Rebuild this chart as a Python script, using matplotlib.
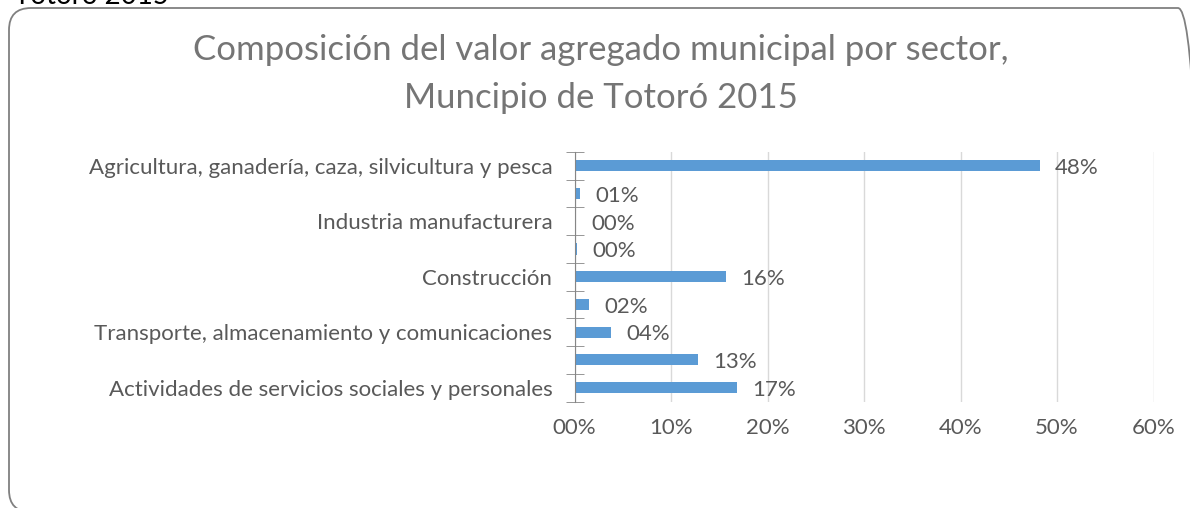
import matplotlib
matplotlib.use('Agg')
import matplotlib.pyplot as plt
from matplotlib.patches import FancyBboxPatch
from matplotlib.transforms import IdentityTransform

# sectores (solo se muestran las etiquetas alternas, como en el original)
sectores = [
    'Agricultura, ganadería, caza, silvicultura y pesca',
    'Explotación de minas y canteras',
    'Industria manufacturera',
    'Electricidad, gas y agua',
    'Construcción',
    'Comercio, reparación, restaurantes y hoteles',
    'Transporte, almacenamiento y comunicaciones',
    'Establecimientos financieros, seguros e inmobiliarias',
    'Actividades de servicios sociales y personales',
]
participacion = [0.482, 0.006, 0.002, 0.0025, 0.157, 0.015, 0.038, 0.128, 0.168]
ticks_x = [0, 0.1, 0.2, 0.3, 0.4, 0.5, 0.6]

plt.rcParams['font.family'] = ['Lato', 'DejaVu Sans']
gris = '#595959'

fig = plt.figure(figsize=(11.9, 5.08), dpi=100)

# marco redondeado (en pixeles)
caja = FancyBboxPatch((9, -4), 1200 - 9, 508 - 8 + 4,
                      boxstyle='round,pad=0,rounding_size=22',
                      transform=IdentityTransform(), facecolor='none',
                      edgecolor='#808080', linewidth=1.3)
fig.patches.append(caja)
fig.text(14 / 1190, 1 - 4 / 508, 'Totoró 2015', fontsize=20, color='black',
         ha='left', va='baseline')

fig.text(0.505, 1 - 50 / 508, 'Composición del valor agregado municipal por sector,',
         fontsize=25, color='#757575', ha='center', va='center')
fig.text(0.505, 1 - 98 / 508, 'Muncipio de Totoró 2015',
         fontsize=25, color='#757575', ha='center', va='center')

ax = fig.add_axes([574.5 / 1190, 1 - 401.5 / 508, (1153.5 - 574.5) / 1190, (401.5 - 152) / 508])
pos = list(range(len(sectores)))
ax.barh(pos, participacion, height=0.4, color='#5B9BD5', zorder=3)
for p, v in zip(pos, participacion):
    ax.text(v + 0.016, p + 0.08, f'{v * 100:02.0f}%', fontsize=16, color=gris,
            ha='left', va='center')

ax.set_xlim(0, 0.6)
ax.set_ylim(len(sectores) - 0.5, -0.5)
ax.set_xticks(ticks_x)
ax.set_xticklabels([f'{t * 100:02.0f}%' for t in ticks_x], fontsize=16, color=gris)
ax.set_yticks(pos)
ax.set_yticklabels([s if i % 2 == 0 else '' for i, s in enumerate(sectores)],
                   fontsize=16, color=gris)
ax.set_yticks([p - 0.5 for p in pos] + [len(sectores) - 0.5], minor=True)
ax.tick_params(axis='y', which='major', length=0, pad=16)
ax.tick_params(axis='y', which='minor', length=13, direction='inout', color='#868686')
ax.tick_params(axis='x', length=0, pad=12)
ax.grid(axis='x', color='#d9d9d9', linewidth=1, zorder=0)
for s in ['top', 'right', 'bottom']:
    ax.spines[s].set_visible(False)
ax.spines['left'].set_color('#868686')
ax.spines['left'].set_zorder(4)

fig.savefig('out.png', dpi=100)
